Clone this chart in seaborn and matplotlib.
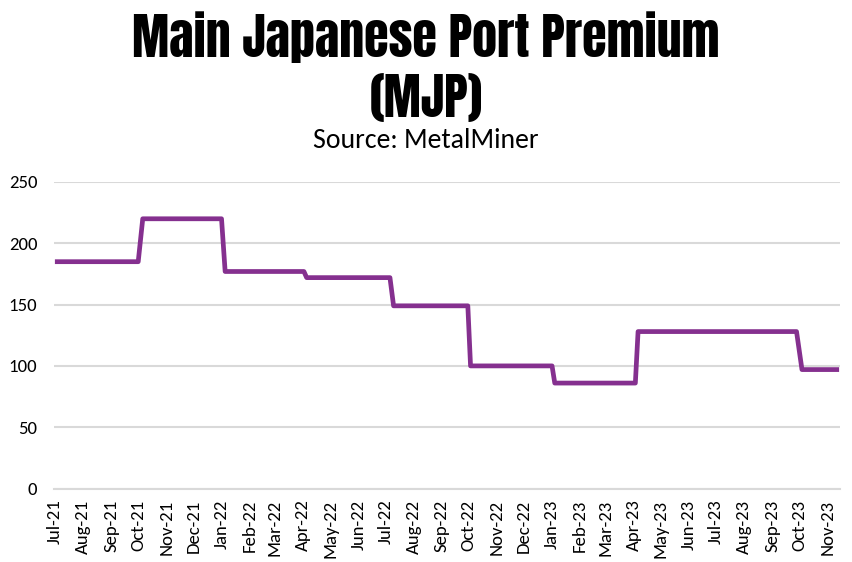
import matplotlib
matplotlib.use("Agg")
import matplotlib.pyplot as plt
import matplotlib.dates as mdates
import seaborn as sns
import pandas as pd

# Data: points where the premium level changes (USD/t)
dates = ["2021-07-01", "2021-10-01", "2021-10-06", "2022-01-01", "2022-01-05",
         "2022-04-02", "2022-04-05", "2022-07-06", "2022-07-10", "2022-09-30",
         "2022-10-03", "2023-01-01", "2023-01-04", "2023-04-03", "2023-04-06",
         "2023-09-28", "2023-10-04", "2023-11-14"]
premium = [185, 185, 220, 220, 177,
           177, 172, 172, 149, 149,
           100, 100, 86, 86, 128,
           128, 97, 97]
yticks = [0, 50, 100, 150, 200, 250]

title_line1 = "Main Japanese Port Premium"
title_line2 = "(MJP)"
subtitle = "Source: MetalMiner"

df = pd.DataFrame({"date": pd.to_datetime(dates), "premium": premium})

sns.set_style("white")
body_fonts = ["Carlito", "Lato", "DejaVu Sans"]
title_fonts = ["Anton", "Oswald", "Bebas Neue", "DejaVu Sans"]
plt.rcParams["font.family"] = body_fonts
plt.rcParams["text.color"] = "black"

fig = plt.figure(figsize=(8.52, 5.62), dpi=100)
ax = fig.add_axes([54 / 852, 1 - 488.5 / 562, (840 - 54) / 852, (488.5 - 182) / 562])

sns.lineplot(data=df, x="date", y="premium", ax=ax, color="#85308F",
             linewidth=3.4, solid_joinstyle="round", solid_capstyle="butt")

ax.set_ylim(0, 250)
ax.set_yticks(yticks)
ax.set_xlim(pd.Timestamp("2021-06-30"), pd.Timestamp("2023-11-15"))
ax.xaxis.set_major_locator(mdates.MonthLocator())
ax.xaxis.set_major_formatter(mdates.DateFormatter("%b-%y"))
ax.tick_params(axis="x", rotation=90, labelsize=13.5, length=5, width=1.2,
               color="#D9D9D9", pad=3, labelcolor="black")
ax.tick_params(axis="y", labelsize=13.5, length=0, pad=12, labelcolor="black")

ax.grid(axis="y", color="#D9D9D9", linewidth=1.5)
ax.set_axisbelow(True)
for s in ["top", "right", "left"]:
    ax.spines[s].set_visible(False)
ax.spines["bottom"].set_color("#D9D9D9")
ax.spines["bottom"].set_linewidth(1.5)
ax.set_xlabel("")
ax.set_ylabel("")

fig.text(0.5, 1 - 37 / 562, title_line1, ha="center", va="center",
         fontsize=36, family=title_fonts, color="black")
fig.text(0.5, 1 - 98 / 562, title_line2, ha="center", va="center",
         fontsize=36, family=title_fonts, color="black")
fig.text(0.5, 1 - 141 / 562, subtitle, ha="center", va="center", fontsize=20,
         color="black")

fig.savefig("out.png", dpi=100)
